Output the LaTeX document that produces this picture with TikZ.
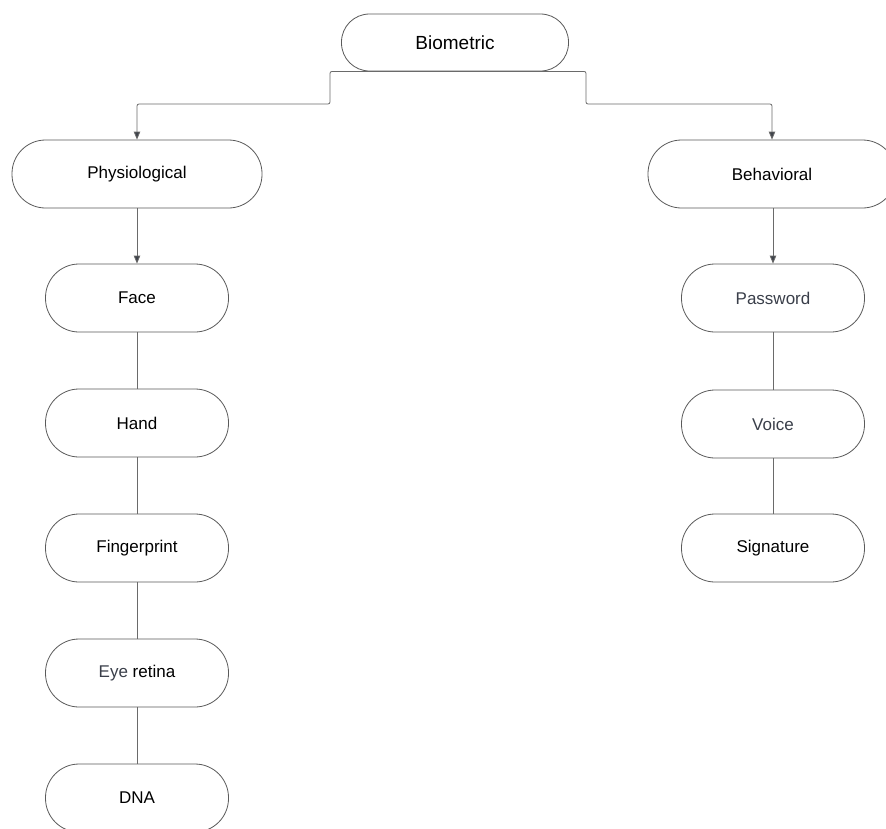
\documentclass[tikz,border=0pt]{standalone}
\usepackage{fontspec}
\setmainfont{Liberation Sans}
\usetikzlibrary{arrows.meta}
\definecolor{linegray}{HTML}{6A6A6A}
\definecolor{bordergray}{HTML}{5A5A5A}
\definecolor{tipgray}{HTML}{40444C}
\definecolor{txtgray}{HTML}{3A3F4A}
\begin{document}
\begin{tikzpicture}[x=1pt,y=-1pt,
  pill/.style={draw=bordergray, line width=0.8pt, inner sep=0pt, fill=white,
    font=\fontsize{17}{20}\selectfont},
  topbox/.style={pill, minimum width=227pt, minimum height=57pt, rounded corners=28pt,
    font=\fontsize{19}{22}\selectfont},
  midbox/.style={pill, minimum width=250pt, minimum height=68pt, rounded corners=33.5pt},
  leafbox/.style={pill, minimum width=183pt, minimum height=68pt, rounded corners=33.5pt},
  conn/.style={draw=linegray, line width=0.8pt},
  arrowconn/.style={conn, -{Triangle[length=8pt,width=6.5pt,fill=tipgray]}},
]
\useasboundingbox (0,0) rectangle (886,828);
\clip (0,0) rectangle (886,828);
\fill[white] (0,0) rectangle (886,828);

% nodes
\node[topbox] (bio) at (455,42.5) {Biometric};
\node[midbox] (phys) at (137,174) {Physiological};
\node[midbox, minimum width=248pt] (behav) at (772,174) {Behavioral};

\node[leafbox] (face) at (137,298) {Face};
\node[leafbox] (hand) at (137,423) {Hand};
\node[leafbox] (finger) at (137,548) {Fingerprint};
\node[leafbox] (eye) at (137,673) {\textcolor{txtgray}{Eye} retina};
\node[leafbox] (dna) at (137,798) {DNA};

\node[leafbox] (pass) at (773,298) {\textcolor{txtgray}{Password}};
\node[leafbox] (voice) at (773,424) {\textcolor{txtgray}{Voice}};
\node[leafbox] (sig) at (773,548) {Signature};

% junction coordinates
\coordinate (jl) at (330,104);
\coordinate (jr) at (586,104);

% connectors
\draw[arrowconn, rounded corners=2pt] (bio.south) -| (jl) -| (phys.north);
\draw[arrowconn, rounded corners=2pt] (bio.south) -| (jr) -| (behav.north);

\draw[arrowconn] (phys.south) -- (face.north);
\draw[conn] (face.south) -- (hand.north);
\draw[conn] (hand.south) -- (finger.north);
\draw[conn] (finger.south) -- (eye.north);
\draw[conn] (eye.south) -- (dna.north);

\draw[arrowconn] (behav.south -| pass.north) -- (pass.north);
\draw[conn] (pass.south) -- (voice.north);
\draw[conn] (voice.south) -- (sig.north);
\end{tikzpicture}
\end{document}
